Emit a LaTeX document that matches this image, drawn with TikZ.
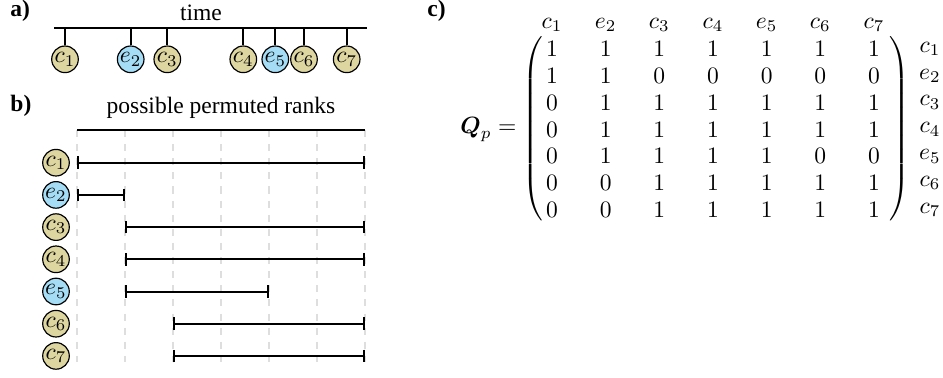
\documentclass[tikz,border=0pt]{standalone}
\usepackage{amsmath}
\usepackage[no-math]{fontspec}
\setmainfont{Liberation Serif}
\usetikzlibrary{arrows.meta,matrix,calc}
\definecolor{ctan}{RGB}{222,214,160}
\definecolor{eblue}{RGB}{164,221,245}
\definecolor{gridgray}{RGB}{222,222,222}

\begin{document}
\begin{tikzpicture}[x=0.425pt,y=-0.425pt,
  ev/.style={circle,draw=black,line width=0.5pt,minimum size=11.3pt,inner sep=0pt},
  cev/.style={ev,fill=ctan},
  eev/.style={ev,fill=eblue},
  axis/.style={line width=0.9pt},
  tickline/.style={line width=0.7pt},
  gridline/.style={gridgray,line width=0.65pt,dash pattern=on 3pt off 3pt},
  interval/.style={line width=0.85pt,
    {Bar[width=5.4pt,line width=0.85pt]}-{Bar[width=5.4pt,line width=0.85pt]}},
  panel/.style={font=\bfseries,anchor=base west,inner sep=0pt},
  lab/.style={inner sep=0pt},
  every left delimiter/.style={inner sep=0pt,xshift=2.4pt},
  every right delimiter/.style={inner sep=0pt,xshift=0pt},
]
\useasboundingbox (0,0) rectangle (943,377);

% panel labels
\node[panel] (pa) at (10,16) {a)};
\node[panel] (pb) at (10,111) {b)};
\node[panel] (pc) at (427,16) {c)};

% a) events on the time axis
\coordinate (tl) at (54,28);
\coordinate (tr) at (367,28);
\draw[axis] (tl) -- (tr);
\node[anchor=base,lab] (time) at (201,20) {time};
\foreach \i/\k/\x in {1/c/65,2/e/130.7,3/c/167.3,4/c/243.3,5/e/275.3,6/c/304,7/c/346.7}{
  \node[\k ev] (a\i) at (\x,59.3) {$\k_{\i}$};
  \draw[tickline] (a\i.north) -- (a\i.north |- tl);
}

% b) admissible rank intervals
\foreach \k in {0,...,6}{
  \coordinate (g\k) at ({77+48*\k},130);
}
\coordinate (gb) at (77,362);
\foreach \k in {0,...,6}{
  \draw[gridline] (g\k) -- (g\k |- gb);
}
\draw[axis] (g0) -- (g6);
\node[anchor=base,lab] (ranks) at (221,113) {possible permuted ranks};
\foreach \i/\k/\s/\e in {1/c/0/6,2/e/0/1,3/c/1/6,4/c/1/6,5/e/1/4,6/c/2/6,7/c/2/6}{
  \node[\k ev] (b\i) at (56,{162.7+32.2*(\i-1)}) {$\k_{\i}$};
  \draw[interval] (g\s |- b\i) -- (g\e |- b\i);
}

% c) permutation matrix
\matrix (Q) [matrix of math nodes,inner sep=0pt,
  nodes={minimum width=10pt,minimum height=8.6pt,inner sep=0pt,anchor=center},
  column sep=12.8pt,row sep=2.8pt,
  left delimiter=(,right delimiter=)] at (713,129.5) {
  1 & 1 & 1 & 1 & 1 & 1 & 1\\
  1 & 1 & 0 & 0 & 0 & 0 & 0\\
  0 & 1 & 1 & 1 & 1 & 1 & 1\\
  0 & 1 & 1 & 1 & 1 & 1 & 1\\
  0 & 1 & 1 & 1 & 1 & 0 & 0\\
  0 & 0 & 1 & 1 & 1 & 1 & 1\\
  0 & 0 & 1 & 1 & 1 & 1 & 1\\
};
\foreach \j/\k in {1/c,2/e,3/c,4/c,5/e,6/c,7/c}{
  \node (h\j) at ($(Q-1-\j.center)+(0,-24)$) {$\k_{\j}$};
  \node (r\j) at ($(Q-\j-7.center)+(56,0)$) {$\k_{\j}$};
}
\node[anchor=east,lab] (qlab) at (517,129.5) {$\boldsymbol{Q}_p =$};
\end{tikzpicture}
\end{document}
